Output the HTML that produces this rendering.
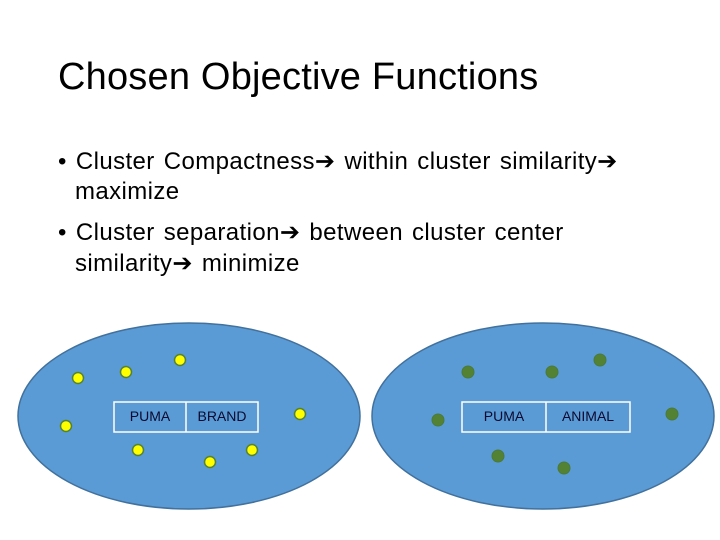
<!DOCTYPE html>
<html><head><style>
body{margin:0;width:720px;height:540px;background:#fff;position:relative;overflow:hidden;font-family:"Liberation Sans",sans-serif;}
.t{position:absolute;white-space:nowrap;color:#000;}
.b{font-size:24px;letter-spacing:0.4px;word-spacing:2px;}
</style></head><body>
<div class="t" style="left:58px;top:56px;font-size:38px;letter-spacing:0.2px;">Chosen Objective Functions</div>
<div class="t b" style="left:58px;top:147px;">• Cluster Compactness➔ within cluster similarity➔</div>
<div class="t b" style="left:75px;top:178px;">maximize</div>
<div class="t b" style="left:58px;top:218px;">• Cluster separation➔ between cluster center</div>
<div class="t b" style="left:75px;top:249px;">similarity➔ minimize</div>
<svg width="720" height="540" style="position:absolute;left:0;top:0">
<ellipse cx="189" cy="416" rx="171" ry="93" fill="#5b9bd5" stroke="#41719c" stroke-width="1.5"/>
<ellipse cx="543" cy="416" rx="171" ry="93" fill="#5b9bd5" stroke="#41719c" stroke-width="1.5"/>
<g fill="none" stroke="#fff" stroke-width="1.5">
<rect x="114" y="402" width="144" height="30"/><line x1="186" y1="402" x2="186" y2="432"/>
<rect x="462" y="402" width="168" height="30"/><line x1="546" y1="402" x2="546" y2="432"/>
</g>
<g font-family="Liberation Sans,sans-serif" font-size="14" fill="#0a0a30" text-anchor="middle">
<text x="150" y="421">PUMA</text><text x="222" y="421">BRAND</text>
<text x="504" y="421">PUMA</text><text x="588" y="421">ANIMAL</text>
</g>
<g fill="#ffff00" stroke="#548235" stroke-width="1.5">
<circle cx="78" cy="378" r="5.5"/><circle cx="126" cy="372" r="5.5"/><circle cx="180" cy="360" r="5.5"/>
<circle cx="66" cy="426" r="5.5"/><circle cx="138" cy="450" r="5.5"/><circle cx="210" cy="462" r="5.5"/>
<circle cx="252" cy="450" r="5.5"/><circle cx="300" cy="414" r="5.5"/>
</g>
<g fill="#548235" stroke="#4a7a3a" stroke-width="1">
<circle cx="468" cy="372" r="6"/><circle cx="552" cy="372" r="6"/><circle cx="600" cy="360" r="6"/>
<circle cx="438" cy="420" r="6"/><circle cx="498" cy="456" r="6"/><circle cx="564" cy="468" r="6"/>
<circle cx="672" cy="414" r="6"/>
</g>
</svg>
</body></html>
